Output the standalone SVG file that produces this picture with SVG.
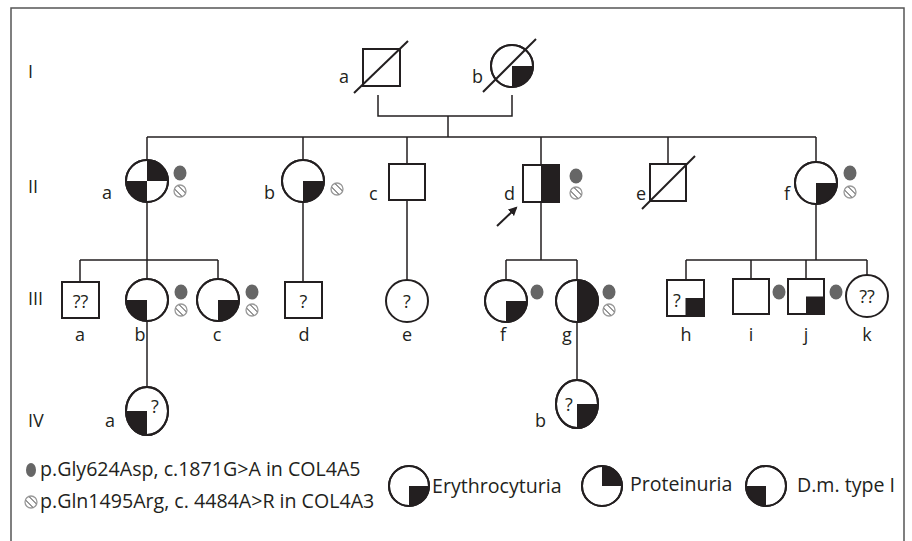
<svg xmlns="http://www.w3.org/2000/svg" xmlns:xlink="http://www.w3.org/1999/xlink" width="912" height="541" viewBox="0 0 912 541">
<style>
.n{fill:#fff;stroke:#231f20;stroke-width:2}
.o{fill:none;stroke:#231f20;stroke-width:2}
.f{fill:#231f20;stroke:none}
.c{fill:none;stroke:#231f20;stroke-width:1.5}
.t{font-family:"Open Sans","Noto Sans","DejaVu Sans",sans-serif;font-size:18px;fill:#231f20}
.m{text-anchor:middle}
.lg{font-size:19.6px}
.gd{fill:#666}
</style>
<defs>
<clipPath id="hc"><circle cx="0" cy="0" r="5.5"/></clipPath>
<g id="hatch">
<circle cx="0" cy="0" r="6" fill="#fff" stroke="#999" stroke-width="1.3"/>
<g clip-path="url(#hc)" stroke="#333" stroke-width="1">
<line x1="-6" y1="-2.5" x2="2.5" y2="6"/>
<line x1="-2.5" y1="-6" x2="6" y2="2.5"/>
</g>
</g>
<marker id="ah" markerWidth="10" markerHeight="10" refX="7" refY="5" orient="auto" markerUnits="userSpaceOnUse">
<path d="M0,0.5 L9,5 L0,9.5 Z" fill="#231f20"/>
</marker>
</defs>
<rect x="11" y="8" width="893" height="545" fill="#fff" stroke="#555" stroke-width="1.5"/>

<g id="gen-labels" class="t">
<text x="28" y="78">I</text>
<text x="28" y="193">II</text>
<text x="28" y="305">III</text>
<text x="28" y="427">IV</text>
</g>

<g id="connectors" class="c">
<path d="M378,95 V116 H512 V95"/>
<path d="M448,116 V137"/>
<path d="M147,137 H816"/>
<path d="M147,137 V160 M303,137 V160 M407,137 V164 M541,137 V165 M668,137 V164 M816,137 V162"/>
<path d="M147,202 V260 M303,202 V282 M407,200 V280 M541,202 V260 M816,204 V260"/>
<path d="M80,260 H218 M80,260 V282 M147,260 V279 M218,260 V279"/>
<path d="M506,260 H577 M506,260 V280 M577,260 V280"/>
<path d="M686,260 H867 M686,260 V280 M751,260 V279 M806,260 V279 M867,260 V275"/>
<path d="M147,321 V387"/>
<path d="M577,322 V380"/>
<line x1="497" y1="226" x2="516" y2="208" stroke-width="2" marker-end="url(#ah)"/>
</g>

<!-- Generation I -->
<g id="I-a">
<rect class="n" x="363" y="49" width="37" height="37"/>
<line x1="354" y1="93" x2="408" y2="41" stroke="#231f20" stroke-width="2"/>
<text class="t" x="339" y="83">a</text>
</g>
<g id="I-b">
<circle class="n" cx="512" cy="66" r="21"/>
<path class="f" d="M512,66 H533 A21,21 0 0 1 512,87 Z"/>
<circle class="o" cx="512" cy="66" r="21"/>
<line x1="483" y1="92" x2="536" y2="39" stroke="#231f20" stroke-width="2"/>
<text class="t" x="472" y="83">b</text>
</g>

<!-- Generation II -->
<g id="II-a">
<circle class="n" cx="147" cy="181" r="21"/>
<path class="f" d="M147,181 V160 A21,21 0 0 1 168,181 Z M147,181 V202 A21,21 0 0 1 126,181 Z"/>
<circle class="o" cx="147" cy="181" r="21"/>
<ellipse class="gd" cx="180" cy="173" rx="6.5" ry="7.5"/>
<use xlink:href="#hatch" x="180" y="191"/>
<text class="t" x="102" y="199">a</text>
</g>
<g id="II-b">
<circle class="n" cx="303" cy="181" r="21"/>
<path class="f" d="M303,181 H324 A21,21 0 0 1 303,202 Z"/>
<circle class="o" cx="303" cy="181" r="21"/>
<use xlink:href="#hatch" x="337" y="189"/>
<text class="t" x="264" y="199">b</text>
</g>
<g id="II-c">
<rect class="n" x="389" y="164" width="36" height="36"/>
<text class="t" x="369" y="200">c</text>
</g>
<g id="II-d">
<rect class="n" x="523" y="165" width="36" height="37"/>
<rect class="f" x="541" y="165" width="18" height="37"/>
<rect class="o" x="523" y="165" width="36" height="37"/>
<ellipse class="gd" cx="576" cy="176" rx="6.5" ry="7.5"/>
<use xlink:href="#hatch" x="576" y="193"/>
<text class="t" x="504" y="200">d</text>
</g>
<g id="II-e">
<rect class="n" x="650" y="164" width="36" height="37"/>
<line x1="642" y1="209" x2="695" y2="156" stroke="#231f20" stroke-width="2"/>
<text class="t" x="636" y="200">e</text>
</g>
<g id="II-f">
<circle class="n" cx="816" cy="183" r="21"/>
<path class="f" d="M816,183 H837 A21,21 0 0 1 816,204 Z"/>
<circle class="o" cx="816" cy="183" r="21"/>
<ellipse class="gd" cx="850" cy="173" rx="6.5" ry="7.5"/>
<use xlink:href="#hatch" x="850" y="192"/>
<text class="t" x="784" y="200">f</text>
</g>

<!-- Generation III -->
<g id="III-a">
<rect class="n" x="62" y="282" width="37" height="36"/>
<text class="t m" x="80.5" y="308">??</text>
<text class="t m" x="80" y="341">a</text>
</g>
<g id="III-b">
<circle class="n" cx="147" cy="300" r="21"/>
<path class="f" d="M147,300 V321 A21,21 0 0 1 126,300 Z"/>
<circle class="o" cx="147" cy="300" r="21"/>
<ellipse class="gd" cx="181" cy="292" rx="6.5" ry="7.5"/>
<use xlink:href="#hatch" x="181" y="310"/>
<text class="t m" x="140" y="341">b</text>
</g>
<g id="III-c">
<circle class="n" cx="218" cy="300" r="21"/>
<path class="f" d="M218,300 H239 A21,21 0 0 1 218,321 Z"/>
<circle class="o" cx="218" cy="300" r="21"/>
<ellipse class="gd" cx="252" cy="292" rx="6.5" ry="7.5"/>
<use xlink:href="#hatch" x="252" y="310"/>
<text class="t m" x="217" y="341">c</text>
</g>
<g id="III-d">
<rect class="n" x="285" y="282" width="37" height="36"/>
<text class="t m" x="303.5" y="308">?</text>
<text class="t m" x="304" y="341">d</text>
</g>
<g id="III-e">
<circle class="n" cx="407" cy="301" r="21"/>
<text class="t m" x="407" y="308">?</text>
<text class="t m" x="407" y="341">e</text>
</g>
<g id="III-f">
<circle class="n" cx="506" cy="301" r="21"/>
<path class="f" d="M506,301 H527 A21,21 0 0 1 506,322 Z"/>
<circle class="o" cx="506" cy="301" r="21"/>
<ellipse class="gd" cx="537" cy="292" rx="6.5" ry="7.5"/>
<text class="t m" x="503" y="341">f</text>
</g>
<g id="III-g">
<circle class="n" cx="577" cy="301" r="21"/>
<path class="f" d="M577,280 A21,21 0 0 1 577,322 Z"/>
<circle class="o" cx="577" cy="301" r="21"/>
<ellipse class="gd" cx="609" cy="292" rx="6.5" ry="7.5"/>
<use xlink:href="#hatch" x="609" y="310"/>
<text class="t m" x="567" y="341">g</text>
</g>
<g id="III-h">
<rect class="n" x="667" y="280" width="37" height="36"/>
<rect class="f" x="685.5" y="298" width="18.5" height="18"/>
<rect class="o" x="667" y="280" width="37" height="36"/>
<text class="t m" x="677" y="307">?</text>
<text class="t m" x="686" y="341">h</text>
</g>
<g id="III-i">
<rect class="n" x="733" y="279" width="36" height="35"/>
<ellipse class="gd" cx="779" cy="292" rx="6.5" ry="7.5"/>
<text class="t m" x="751" y="341">i</text>
</g>
<g id="III-j">
<rect class="n" x="788" y="279" width="36" height="35"/>
<rect class="f" x="806" y="296.5" width="18" height="17.5"/>
<rect class="o" x="788" y="279" width="36" height="35"/>
<ellipse class="gd" cx="836" cy="292" rx="6.5" ry="7.5"/>
<text class="t m" x="806" y="341">j</text>
</g>
<g id="III-k">
<circle class="n" cx="867" cy="296" r="21"/>
<text class="t m" x="867" y="303">??</text>
<text class="t m" x="867" y="341">k</text>
</g>

<!-- Generation IV -->
<g id="IV-a">
<ellipse class="n" cx="147" cy="411" rx="21" ry="24"/>
<path class="f" d="M147,411 V435 A21,24 0 0 1 126,411 Z"/>
<ellipse class="o" cx="147" cy="411" rx="21" ry="24"/>
<text class="t m" x="155" y="413">?</text>
<text class="t" x="105" y="427">a</text>
</g>
<g id="IV-b">
<ellipse class="n" cx="577" cy="404" rx="21" ry="24"/>
<path class="f" d="M577,404 H598 A21,24 0 0 1 577,428 Z"/>
<ellipse class="o" cx="577" cy="404" rx="21" ry="24"/>
<text class="t m" x="569" y="411">?</text>
<text class="t" x="535" y="427">b</text>
</g>

<!-- Legend -->
<g id="legend">
<ellipse class="gd" cx="31" cy="470" rx="5" ry="7"/>
<text class="t lg" x="40" y="476">p.Gly624Asp, c.1871G&gt;A in COL4A5</text>
<use xlink:href="#hatch" x="31" y="502"/>
<text class="t lg" x="40" y="508">p.Gln1495Arg, c. 4484A&gt;R in COL4A3</text>
<circle class="n" cx="409" cy="486" r="20"/>
<path class="f" d="M409,486 H429 A20,20 0 0 1 409,506 Z"/>
<circle class="o" cx="409" cy="486" r="20"/>
<text class="t lg" x="432" y="493">Erythrocyturia</text>
<circle class="n" cx="602" cy="486" r="20"/>
<path class="f" d="M602,486 V466 A20,20 0 0 1 622,486 Z"/>
<circle class="o" cx="602" cy="486" r="20"/>
<text class="t lg" x="630" y="491">Proteinuria</text>
<circle class="n" cx="766" cy="486" r="20"/>
<path class="f" d="M766,486 V506 A20,20 0 0 1 746,486 Z"/>
<circle class="o" cx="766" cy="486" r="20"/>
<text class="t lg" x="797" y="492">D.m. type I</text>
</g>
</svg>
